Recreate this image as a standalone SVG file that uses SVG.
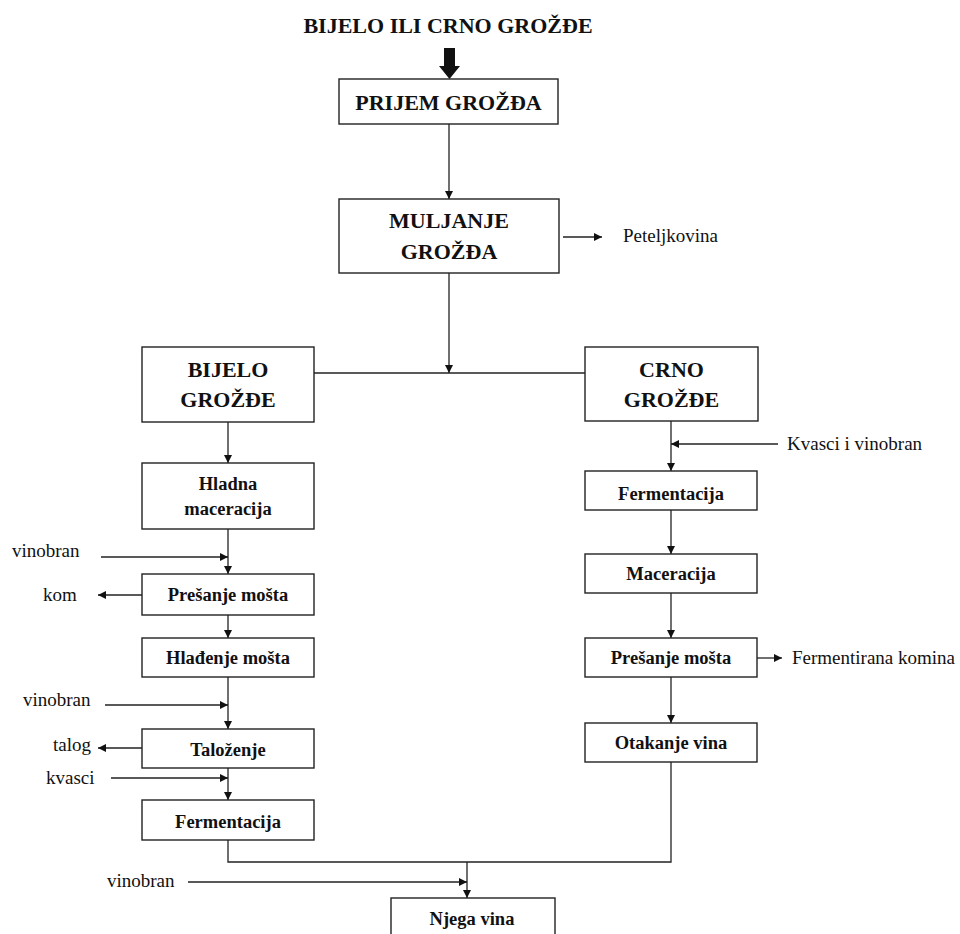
<svg xmlns="http://www.w3.org/2000/svg" width="960" height="934" viewBox="0 0 960 934" font-family="'Liberation Serif', 'Times New Roman', 'DejaVu Serif', serif">
<style>
  .box{fill:#fff;stroke:#222;stroke-width:1.4}
  text{font-family:'Liberation Serif','Times New Roman','DejaVu Serif',serif}
  .hdr{font-weight:bold;font-size:22px;fill:#111;text-anchor:middle}
  .lbl{font-weight:bold;font-size:18.5px;fill:#111;text-anchor:middle}
  .side{font-size:19px;fill:#111}
  .c{fill:none;stroke:#222;stroke-width:1.3}
</style>
<defs>
  <marker id="ah" viewBox="0 0 10 10" refX="10" refY="5" markerWidth="9" markerHeight="8" markerUnits="userSpaceOnUse" orient="auto">
    <path d="M0,0 L10,5 L0,10 z" fill="#111"/>
  </marker>
</defs>
<rect width="960" height="934" fill="#fff"/>

<g id="title">
  <text class="hdr" x="448" y="33">BIJELO ILI CRNO GROŽĐE</text>
  <polygon points="444,48 455,48 455,66 460,66 449.5,79 439,66 444,66" fill="#111"/>
</g>

<g id="connectors">
  <line class="c" x1="449" y1="124" x2="449" y2="199" marker-end="url(#ah)"/>
  <line class="c" x1="563" y1="237" x2="602" y2="237" marker-end="url(#ah)"/>
  <line class="c" x1="449" y1="273" x2="449" y2="373" marker-end="url(#ah)"/>
  <line class="c" x1="314" y1="373" x2="585" y2="373"/>
  <line class="c" x1="228" y1="422" x2="228" y2="463" marker-end="url(#ah)"/>
  <line class="c" x1="228" y1="529" x2="228" y2="574" marker-end="url(#ah)"/>
  <line class="c" x1="101" y1="557" x2="228" y2="557" marker-end="url(#ah)"/>
  <line class="c" x1="142" y1="595" x2="98" y2="595" marker-end="url(#ah)"/>
  <line class="c" x1="228" y1="615" x2="228" y2="638" marker-end="url(#ah)"/>
  <line class="c" x1="228" y1="677" x2="228" y2="729" marker-end="url(#ah)"/>
  <line class="c" x1="105" y1="705" x2="228" y2="705" marker-end="url(#ah)"/>
  <line class="c" x1="142" y1="748" x2="98" y2="748" marker-end="url(#ah)"/>
  <line class="c" x1="228" y1="768" x2="228" y2="800" marker-end="url(#ah)"/>
  <line class="c" x1="111" y1="778" x2="228" y2="778" marker-end="url(#ah)"/>
  <polyline class="c" points="228,840 228,862 671,862 671,762"/>
  <line class="c" x1="467" y1="862" x2="467" y2="898" marker-end="url(#ah)"/>
  <line class="c" x1="188" y1="882" x2="467" y2="882" marker-end="url(#ah)"/>
  <line class="c" x1="671" y1="421" x2="671" y2="471" marker-end="url(#ah)"/>
  <line class="c" x1="778" y1="444" x2="671" y2="444" marker-end="url(#ah)"/>
  <line class="c" x1="671" y1="510" x2="671" y2="554" marker-end="url(#ah)"/>
  <line class="c" x1="671" y1="593" x2="671" y2="638" marker-end="url(#ah)"/>
  <line class="c" x1="757" y1="658" x2="782" y2="658" marker-end="url(#ah)"/>
  <line class="c" x1="671" y1="677" x2="671" y2="723" marker-end="url(#ah)"/>
</g>

<g id="prijem">
  <rect class="box" x="339" y="79" width="219" height="45"/>
  <text class="hdr" x="448.5" y="110">PRIJEM GROŽĐA</text>
</g>
<g id="muljanje">
  <rect class="box" x="339" y="199" width="220" height="74"/>
  <text class="hdr" x="449" y="228">MULJANJE</text>
  <text class="hdr" x="449" y="259">GROŽĐA</text>
</g>
<g id="peteljkovina"><text class="side" x="623" y="242">Peteljkovina</text></g>

<g id="bijelo">
  <rect class="box" x="142" y="347" width="172" height="75"/>
  <text class="hdr" x="228" y="377">BIJELO</text>
  <text class="hdr" x="228" y="407">GROŽĐE</text>
</g>
<g id="crno">
  <rect class="box" x="585" y="347" width="173" height="74"/>
  <text class="hdr" x="671.5" y="377">CRNO</text>
  <text class="hdr" x="671.5" y="407">GROŽĐE</text>
</g>

<g id="hladna">
  <rect class="box" x="142" y="463" width="172" height="66"/>
  <text class="lbl" x="228" y="490">Hladna</text>
  <text class="lbl" x="228" y="515">maceracija</text>
</g>
<g id="vinobran1"><text class="side" x="12" y="557">vinobran</text></g>
<g id="presanje1">
  <rect class="box" x="142" y="574" width="172" height="41"/>
  <text class="lbl" x="228" y="601">Prešanje mošta</text>
</g>
<g id="kom"><text class="side" x="43" y="601">kom</text></g>
<g id="hladenje">
  <rect class="box" x="142" y="638" width="172" height="39"/>
  <text class="lbl" x="228" y="664">Hlađenje mošta</text>
</g>
<g id="vinobran2"><text class="side" x="23" y="706">vinobran</text></g>
<g id="talozenje">
  <rect class="box" x="142" y="729" width="172" height="39"/>
  <text class="lbl" x="228" y="756">Taloženje</text>
</g>
<g id="talog"><text class="side" x="53" y="751">talog</text></g>
<g id="kvasci"><text class="side" x="46" y="784">kvasci</text></g>
<g id="fermentacija1">
  <rect class="box" x="142" y="800" width="172" height="40"/>
  <text class="lbl" x="228" y="828">Fermentacija</text>
</g>

<g id="kvasci-vinobran"><text class="side" x="787" y="450">Kvasci i vinobran</text></g>
<g id="fermentacija2">
  <rect class="box" x="585" y="471" width="172" height="39"/>
  <text class="lbl" x="671" y="500">Fermentacija</text>
</g>
<g id="maceracija">
  <rect class="box" x="585" y="554" width="172" height="39"/>
  <text class="lbl" x="671" y="580">Maceracija</text>
</g>
<g id="presanje2">
  <rect class="box" x="585" y="638" width="172" height="39"/>
  <text class="lbl" x="671" y="664">Prešanje mošta</text>
</g>
<g id="komina"><text class="side" x="792" y="664">Fermentirana komina</text></g>
<g id="otakanje">
  <rect class="box" x="585" y="723" width="172" height="39"/>
  <text class="lbl" x="671" y="749">Otakanje vina</text>
</g>

<g id="vinobran3"><text class="side" x="107" y="887">vinobran</text></g>
<g id="njega">
  <rect class="box" x="391" y="898" width="164" height="50"/>
  <text class="lbl" x="472" y="925">Njega vina</text>
</g>
</svg>
